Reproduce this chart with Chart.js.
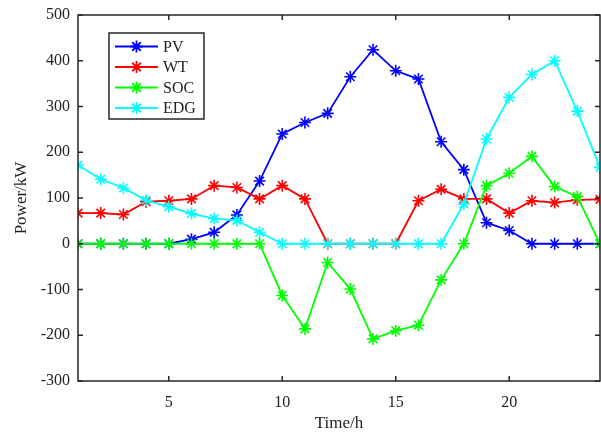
<!DOCTYPE html>
<html>
<head>
<meta charset="utf-8">
<script src="https://cdn.jsdelivr.net/npm/chart.js@4"></script>
<style>
  html, body { margin: 0; padding: 0; background: #fff; }
  #wrap { width: 601px; height: 438px; }
</style>
</head>
<body>
<div id="wrap"><canvas id="myChart" width="601" height="438"></canvas></div>
<script>
// hours and series
var hours = [1,2,3,4,5,6,7,8,9,10,11,12,13,14,15,16,17,18,19,20,21,22,23,24];
var pv  = [0,0,0,0,0,10,25,63,137,240,265,285,365,424,378,360,223,162,46,29,0,0,0,0];
var wt  = [67,67,64,92,94,98,127,123,98,127,98,0,0,0,0,94,119,98,98,67,94,90,96,97];
var soc = [0,0,0,0,0,0,0,0,0,-113,-186,-41,-99,-208,-190,-178,-79,0,127,154,191,125,103,0];
var edg = [172,141,122,95,81,66,55,51,25,0,0,0,0,0,0,0,0,87,229,320,370,400,290,167];

var seriesNames = ["PV", "WT", "SOC", "EDG"];
var seriesColors = ["#0000ff", "#ff0000", "#00ff00", "#00ffff"];
var xTicks = [5, 10, 15, 20];
var yTicks = [-300, -200, -100, 0, 100, 200, 300, 400, 500];

var FONT = "'Liberation Serif', 'Times New Roman', serif";
var AXIS = "#262626";

function pts(arr) {
    return hours.map(function(h, i) { return {x: h, y: arr[i]}; });
}

var datasets = [pv, wt, soc, edg].map(function(arr, i) {
    return {
        label: seriesNames[i],
        data: pts(arr),
        borderColor: seriesColors[i],
        backgroundColor: seriesColors[i],
        borderWidth: 1.8,
        pointStyle: "star",
        pointRadius: 6,
        pointBorderWidth: 1.6,
        tension: 0,
        order: 4 - i
    };
});

// box + inward ticks like matlab
var boxPlugin = {
    id: "box",
    afterDatasetsDraw: function(chart) {
        var c = chart.ctx, a = chart.chartArea;
        var xs = chart.scales.x, ys = chart.scales.y;
        c.save();
        c.strokeStyle = AXIS;
        c.lineWidth = 1.5;
        c.strokeRect(a.left, a.top, a.right - a.left, a.bottom - a.top);
        c.beginPath();
        xTicks.forEach(function(t) {
            var px = xs.getPixelForValue(t);
            c.moveTo(px, a.bottom); c.lineTo(px, a.bottom - 5);
            c.moveTo(px, a.top); c.lineTo(px, a.top + 5);
        });
        yTicks.forEach(function(t) {
            var py = ys.getPixelForValue(t);
            c.moveTo(a.left, py); c.lineTo(a.left + 5, py);
            c.moveTo(a.right, py); c.lineTo(a.right - 5, py);
        });
        c.stroke();
        c.restore();
    }
};

// legend box top-left inside the plot
var legendPlugin = {
    id: "boxLegend",
    afterDraw: function(chart) {
        var c = chart.ctx;
        var bx = 109, by = 33, bw = 95, bh = 86;
        c.save();
        c.fillStyle = "#fff";
        c.fillRect(bx, by, bw, bh);
        c.strokeStyle = AXIS;
        c.lineWidth = 1.5;
        c.strokeRect(bx, by, bw, bh);
        c.font = "16px " + FONT;
        c.textBaseline = "middle";
        chart.data.datasets.forEach(function(ds, i) {
            var y = 46.5 + i * 20.5;
            c.strokeStyle = ds.borderColor;
            c.lineWidth = 1.8;
            c.beginPath();
            c.moveTo(115, y); c.lineTo(158, y);
            c.stroke();
            Chart.helpers.drawPoint(c, {pointStyle: "star", radius: 6, borderWidth: 1.6}, 136.5, y);
            c.fillStyle = "#222";
            c.fillText(ds.label, 163, y + 1);
        });
        c.restore();
    }
};

const ctx = document.getElementById("myChart");
new Chart(ctx, {
    type: "line",
    data: { datasets: datasets },
    options: {
        responsive: false,
        animation: false,
        layout: { autoPadding: false, padding: { top: 15, right: 1, left: 0, bottom: 0 } },
        plugins: {
            legend: { display: false },
            tooltip: { enabled: false }
        },
        scales: {
            x: {
                type: "linear",
                min: 1, max: 24,
                afterBuildTicks: function(s) { s.ticks = xTicks.map(function(v) { return {value: v}; }); },
                afterFit: function(s) { s.height = 57; s.paddingLeft = 0; s.paddingRight = 0; },
                grid: { display: false, drawTicks: false },
                border: { display: false },
                ticks: { color: "#222", font: { family: FONT, size: 16 }, padding: 12, maxRotation: 0 },
                title: { display: true, text: "Time/h", color: "#222", font: { family: FONT, size: 17 }, padding: { top: 2 } }
            },
            y: {
                min: -300, max: 500,
                afterBuildTicks: function(s) { s.ticks = yTicks.map(function(v) { return {value: v}; }); },
                afterFit: function(s) { s.width = 78; s.paddingTop = 0; s.paddingBottom = 0; },
                grid: { display: false, drawTicks: false },
                border: { display: false },
                ticks: { color: "#222", font: { family: FONT, size: 16 }, padding: 8 },
                title: { display: true, text: "Power/kW", color: "#222", font: { family: FONT, size: 17 }, padding: { top: 11, bottom: 4 } }
            }
        }
    },
    plugins: [boxPlugin, legendPlugin]
});
</script>
</body>
</html>
